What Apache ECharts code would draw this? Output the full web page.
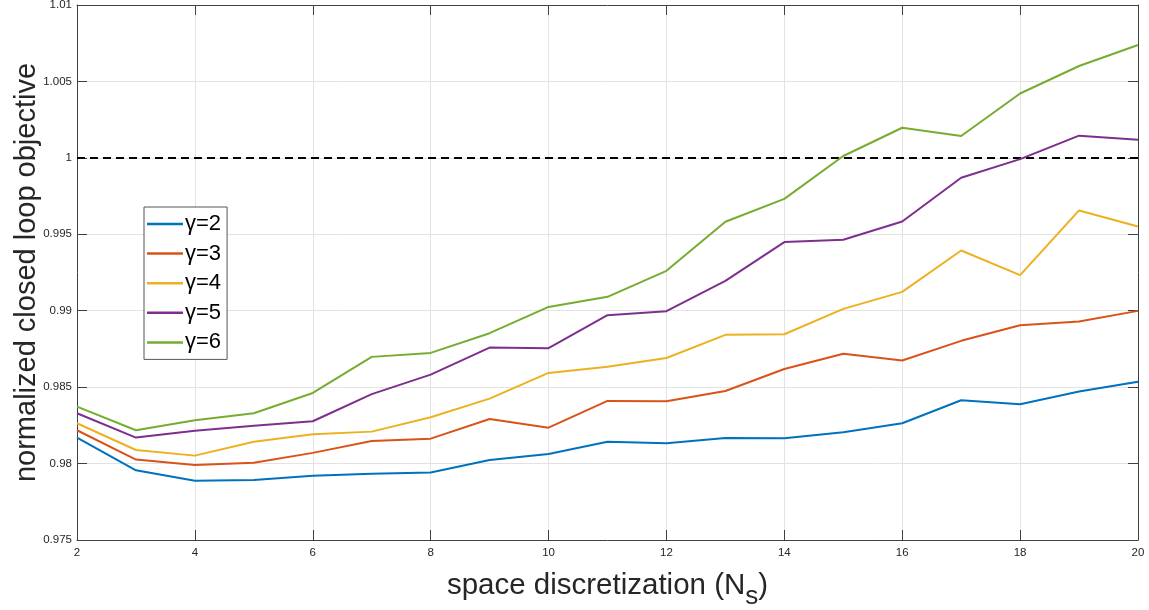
<!DOCTYPE html>
<html>
<head>
<meta charset="utf-8">
<script src="https://cdn.jsdelivr.net/npm/echarts@6/dist/echarts.min.js"></script>
<style>
html,body{margin:0;padding:0;background:#fff;}
#chart{width:1149px;height:610px;}
</style>
</head>
<body>
<div id="chart"></div>
<script>
// ---- data ----
var xValues = [2,3,4,5,6,7,8,9,10,11,12,13,14,15,16,17,18,19,20];
var gamma2 = [0.98170,0.97956,0.97888,0.97893,0.97921,0.97934,0.97941,0.98024,0.98063,0.98143,0.98133,0.98168,0.98166,0.98205,0.98264,0.98414,0.98388,0.98471,0.98536];
var gamma3 = [0.98218,0.98026,0.97991,0.98006,0.98070,0.98148,0.98163,0.98292,0.98235,0.98410,0.98408,0.98475,0.98619,0.98718,0.98674,0.98803,0.98905,0.98929,0.98999];
var gamma4 = [0.98264,0.98089,0.98052,0.98143,0.98192,0.98209,0.98303,0.98425,0.98593,0.98634,0.98691,0.98842,0.98846,0.99012,0.99123,0.99394,0.99233,0.99656,0.99551];
var gamma5 = [0.98329,0.98170,0.98214,0.98248,0.98277,0.98454,0.98582,0.98759,0.98755,0.98971,0.98997,0.99195,0.99449,0.99464,0.99584,0.99870,0.99992,1.00145,1.00118];
var gamma6 = [0.98373,0.98218,0.98284,0.98329,0.98462,0.98698,0.98724,0.98853,0.99025,0.99091,0.99261,0.99582,0.99732,1.00012,1.00197,1.00143,1.00421,1.00601,1.00738];
var seriesNames = ['γ=2','γ=3','γ=4','γ=5','γ=6'];
var referenceLevel = 1;
var xTickLabels = ['2','4','6','8','10','12','14','16','18','20'];
var yTickLabels = ['0.975','0.98','0.985','0.99','0.995','1','1.005','1.01'];

var colors = ['#0072BD','#D95319','#EDB120','#7E2F8E','#77AC30'];
var allSeries = [gamma2,gamma3,gamma4,gamma5,gamma6];
var FONT = '"Liberation Sans", Arial, Helvetica, sans-serif';
var TXT = '#262626';

function pairs(arr){ return arr.map(function(v,i){ return [xValues[i], v]; }); }

var series = allSeries.map(function(arr, i){
  return {
    name: seriesNames[i],
    type: 'line',
    data: pairs(arr),
    symbol: 'none',
    showSymbol: false,
    lineStyle: {width: 2, color: colors[i]},
    itemStyle: {color: colors[i]},
    z: 3 + i,
    animation: false
  };
});
series[0].markLine = {
  silent: true,
  symbol: 'none',
  label: {show: false},
  lineStyle: {color: '#000', type: [8,5], width: 2},
  data: [{yAxis: referenceLevel}],
  animation: false
};

var chart = echarts.init(document.getElementById('chart'));
chart.setOption({
  animation: false,
  backgroundColor: '#fff',
  color: colors,
  grid: {left: 77, top: 5, right: 11, bottom: 70, containLabel: false, outerBoundsMode: 'none'},
  legend: {
    orient: 'vertical',
    left: 144, top: 207,
    padding: [6, 6, 6, 3],
    icon: 'rect',
    itemWidth: 36, itemHeight: 2.5, itemGap: 7.6,
    backgroundColor: '#fff',
    borderColor: '#555', borderWidth: 1,
    textStyle: {fontSize: 22, lineHeight: 22, fontFamily: FONT, color: '#000', padding: [0,0,0,-3]},
    data: seriesNames
  },
  xAxis: [{
    type: 'value', min: 2, max: 20, interval: 2,
    position: 'bottom',
    name: '{n|space discretization (N}{s|s}{n|)}',
    nameLocation: 'middle', nameGap: 22,
    nameTextStyle: {
      fontFamily: FONT, color: TXT, fontSize: 29.5,
      rich: {
        n: {fontFamily: FONT, color: TXT, fontSize: 29.5},
        s: {fontFamily: FONT, color: TXT, fontSize: 26, padding: [22, 0, 0, 0]}
      }
    },
    axisLine: {show: true, onZero: false, lineStyle: {color: '#404040', width: 1}},
    axisTick: {show: true, inside: true, length: 10, lineStyle: {color: '#404040'}},
    axisLabel: {fontSize: 11.5, fontFamily: FONT, color: TXT, margin: 7,
      formatter: function(v){ return xTickLabels[Math.round((v - 2) / 2)]; }},
    splitLine: {show: true, lineStyle: {color: '#e3e3e3', width: 1}}
  },{
    type: 'value', min: 2, max: 20, interval: 2,
    position: 'top',
    axisLine: {show: true, onZero: false, lineStyle: {color: '#404040', width: 1}},
    axisTick: {show: true, inside: true, length: 10, lineStyle: {color: '#404040'}},
    axisLabel: {show: false},
    splitLine: {show: false}
  }],
  yAxis: [{
    type: 'value', min: 0.975, max: 1.01, interval: 0.005,
    position: 'left',
    name: 'normalized closed loop objective',
    nameLocation: 'middle', nameGap: 36, nameRotate: 90,
    nameMoveOverlap: false,
    nameTextStyle: {fontFamily: FONT, color: TXT, fontSize: 29},
    axisLine: {show: true, onZero: false, lineStyle: {color: '#404040', width: 1}},
    axisTick: {show: true, inside: true, length: 10, lineStyle: {color: '#404040'}},
    axisLabel: {fontSize: 11.5, fontFamily: FONT, color: TXT, margin: 5,
      formatter: function(v){ return yTickLabels[Math.round((v - 0.975) / 0.005)]; }},
    splitLine: {show: true, lineStyle: {color: '#e3e3e3', width: 1}}
  },{
    type: 'value', min: 0.975, max: 1.01, interval: 0.005,
    position: 'right',
    axisLine: {show: true, onZero: false, lineStyle: {color: '#404040', width: 1}},
    axisTick: {show: true, inside: true, length: 10, lineStyle: {color: '#404040'}},
    axisLabel: {show: false},
    splitLine: {show: false}
  }],
  series: series
});
</script>
</body>
</html>
